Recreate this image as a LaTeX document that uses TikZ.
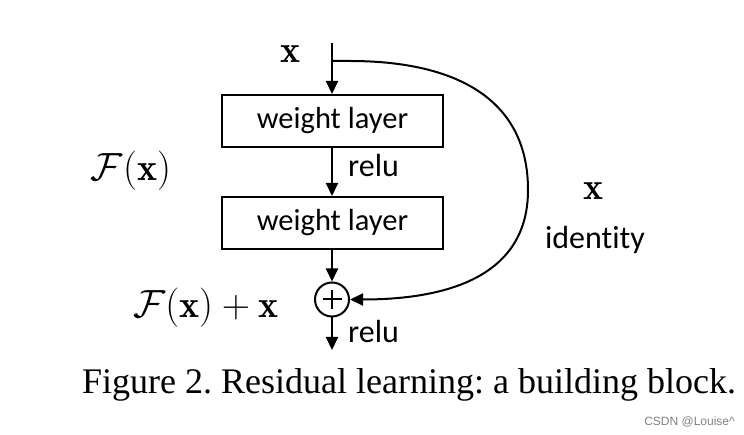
\documentclass[tikz,border=0pt]{standalone}
\usepackage{fontspec}
\usepackage{amsmath}
\usepackage{graphicx}
\usetikzlibrary{arrows.meta}
\newfontfamily\calfont{Carlito}[Ligatures=NoCommon]
\newfontfamily\capfont{Liberation Serif}
\newfontfamily\wmfont{Liberation Sans}
\frenchspacing
\newcommand{\bigmath}[1]{\scalebox{1.58}{\fontsize{24}{24}\selectfont$#1$}}
\tikzset{
  lbox/.style={draw, line width=2pt, minimum width=221pt, minimum height=52pt, inner sep=0pt, font=\calfont\fontsize{30.5}{30.5}\selectfont},
  conn/.style={line width=2pt, -{Triangle[length=13pt,width=12pt]}},
  plainline/.style={line width=2pt},
  sanslabel/.style={font=\calfont\fontsize{32}{32}\selectfont, inner sep=0pt},
  mathlabel/.style={inner sep=0pt}
}
\begin{document}
\begin{tikzpicture}[x=1pt,y=-1pt]
\useasboundingbox (0,0) rectangle (744,435);
\coordinate (xin) at (332,43);
\coordinate (split) at (332,61);
\node[lbox] (w1) at (332.5,121) {weight layer};
\node[lbox] (w2) at (332.5,223) {weight layer};
\node[draw, circle, line width=2pt, minimum size=34pt, inner sep=0pt] (add) at (332,299.5) {};
\coordinate (out) at (332,350);
\draw[plainline] ([xshift=-9.5pt]add.center) -- ([xshift=9.5pt]add.center);
\draw[plainline] ([yshift=-9.5pt]add.center) -- ([yshift=9.5pt]add.center);
\draw[conn] (xin) -- (w1.north -| xin);
\draw[conn] (w1.south -| xin) -- (w2.north -| xin);
\draw[conn] (w2.south -| xin) -- (add.north);
\draw[conn] (add.south) -- (out);
\draw[conn] (split) -- (350,61) .. controls (450,61) and (528,95) .. (528,190) .. controls (528,275) and (450,299.5) .. (add.east);
\node[mathlabel, anchor=base] (xlab) at (291,63) {\bigmath{\mathbf{x}}};
\node[sanslabel, anchor=base west] (relu1) at (348,177) {relu};
\node[sanslabel, anchor=base west] (relu2) at (348,343) {relu};
\node[mathlabel, anchor=base] (fx) at (131,181) {\bigmath{\mathcal{F}(\mathbf{x})}};
\node[mathlabel, anchor=base] (fxx) at (206,318) {\bigmath{\mathcal{F}(\mathbf{x})+\mathbf{x}}};
\node[mathlabel, anchor=base] (xid) at (594,200) {\bigmath{\mathbf{x}}};
\node[sanslabel, anchor=base] (ident) at (595,249) {identity};
\node[anchor=base, inner sep=0pt, font=\capfont\fontsize{36}{36}\selectfont] (cap) at (409,393) {Figure 2. Residual learning: a building block.};
\node[anchor=base east, inner sep=0pt, text=gray, font=\wmfont\fontsize{12}{12}\selectfont] (wm) at (735,425) {CSDN @Louise\^{}};
\end{tikzpicture}
\end{document}
